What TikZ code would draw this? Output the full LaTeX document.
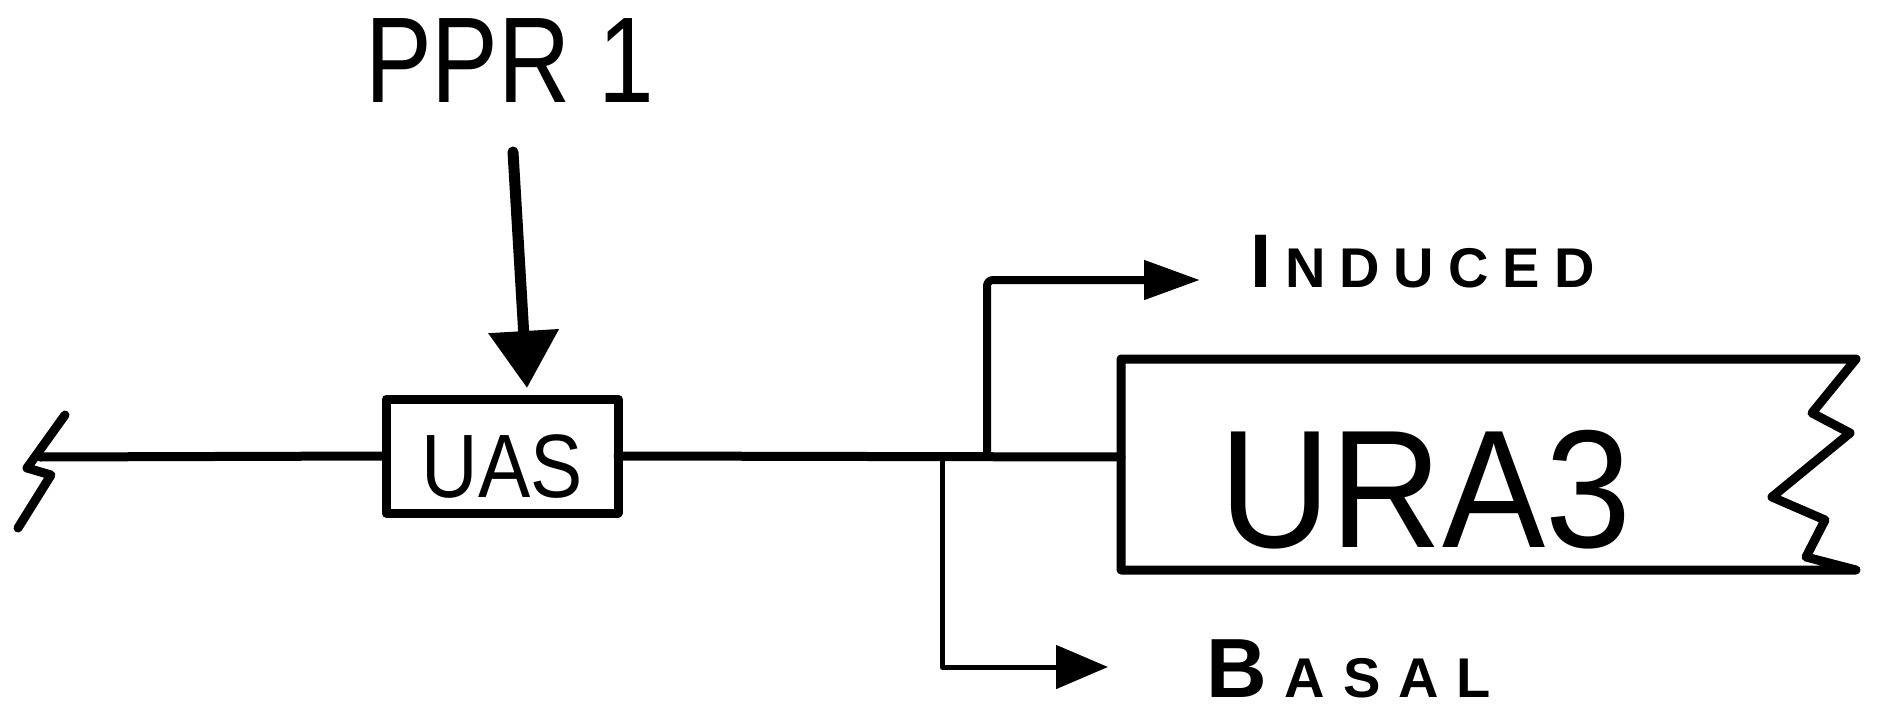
\documentclass[tikz,border=0pt]{standalone}
\usepackage{fontspec}
\usepackage{graphicx}
\setmainfont{Liberation Sans}
\usetikzlibrary{arrows.meta}
\newcommand{\fs}[1]{\fontsize{#1}{#1}\selectfont}
\begin{document}
\begin{tikzpicture}[x=0.5pt,y=-0.5pt,line cap=round,line join=round,
  mainline/.style={line width=4.5pt},
  boxline/.style={line width=4.5pt},
  txt/.style={anchor=base west,inner sep=0pt,outer sep=0pt},
  pprarrow/.style={line width=5.5pt,-{Triangle[length=28.5pt,width=34pt]}},
  indarrow/.style={line width=4pt,rounded corners=3pt,-{Triangle[length=28pt,width=19pt]}},
  basarrow/.style={line width=2.5pt,-{Triangle[length=26pt,width=21.5pt]}}]
\useasboundingbox (0,0) rectangle (1881,712);
\fill[white] (0,0) rectangle (1881,712);

% labels
\node[txt] (ppr) at (365,102) {\scalebox{0.82}[1]{\fs{61pt}PPR 1}};
\node[txt] (ura3) at (1219,547) {\scalebox{0.92}[1]{\fs{84pt}URA3}};
\node[txt] (induced) at (1250,287) {\bfseries{\fs{38pt}I}\kern7pt{\fs{28pt}N\kern7pt D\kern7pt U\kern7pt C\kern7pt E\kern7pt D}};
\node[txt] (basal) at (1206,697) {\bfseries{\fs{42pt}B}\kern9pt{\fs{28pt}A\kern9pt S\kern9pt A\kern9pt L}};

% UAS box
\node[boxline,draw,inner sep=0pt,outer sep=0pt,minimum width=116pt,
      text height=49pt,text depth=8pt] (uas) at (502,456)
      {\scalebox{0.87}[1]{\fs{45pt}UAS}};

% URA3 box with torn right edge
\draw[boxline] (1121,359) -- (1856,359) -- (1812,413) -- (1850,433) -- (1772,497)
  -- (1825,520) -- (1806,557) -- (1856,570) -- (1121,570) -- cycle;
\coordinate (ura) at (1121,457);

% break mark
\draw[boxline] (65,415) -- (27,468) -- (51,475) -- (18,528);
\coordinate (brk) at (40,457);

% main line
\draw[mainline] (brk) -- (uas.west);
\draw[mainline] (uas.east) -- (ura);

% PPR1 arrow
\coordinate (pprstart) at (513,152);
\coordinate (pprend) at (527,388);
\draw[pprarrow] (pprstart) -- (pprend);

% induced branch
\coordinate (jI) at (987,457);
\coordinate (indtip) at (1200,280);
\draw[indarrow] (jI) |- (indtip);

% basal branch
\coordinate (jB) at (942,457);
\coordinate (bastip) at (1108,667);
\draw[basarrow] (jB) |- (bastip);
\end{tikzpicture}
\end{document}
